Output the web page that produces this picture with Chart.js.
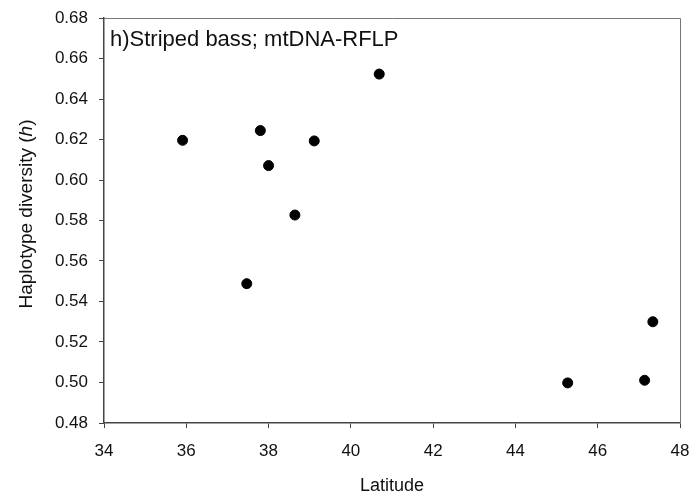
<!DOCTYPE html>
<html>
<head>
<meta charset="utf-8">
<script src="https://cdn.jsdelivr.net/npm/chart.js@4"></script>
<style>
  html, body { margin: 0; padding: 0; background: #fff; }
  #wrap { width: 696px; height: 499px; position: relative; }
</style>
</head>
<body>
<div id="wrap"><canvas id="chart"></canvas></div>
<script>
// Data
const latitude = [35.91, 37.80, 38.00, 38.64, 39.11, 40.69, 37.47, 45.27, 47.14, 47.34];
const diversity = [0.6196, 0.6244, 0.6071, 0.5827, 0.6193, 0.6523, 0.5488, 0.4998, 0.5011, 0.5300];
const xTicks = [34, 36, 38, 40, 42, 44, 46, 48];
const yTicks = [0.48, 0.50, 0.52, 0.54, 0.56, 0.58, 0.60, 0.62, 0.64, 0.66, 0.68];
const panelLabel = 'h)Striped bass; mtDNA-RFLP';

const FONT = 'Liberation Sans, Arial, sans-serif';
const axisColor = '#444';

// frame, panel label and y title with italic h
const extras = {
    id: 'extras',
    afterDraw(chart) {
        const { ctx, chartArea: a } = chart;
        ctx.save();
        ctx.strokeStyle = '#777';
        ctx.lineWidth = 1;
        ctx.beginPath();
        ctx.moveTo(a.left, a.top + 0.5);
        ctx.lineTo(a.right + 0.5, a.top + 0.5);
        ctx.lineTo(a.right + 0.5, a.bottom);
        ctx.stroke();

        ctx.fillStyle = '#111';
        ctx.font = '22px ' + FONT;
        ctx.textBaseline = 'alphabetic';
        ctx.textAlign = 'left';
        ctx.fillText(panelLabel, a.left + 6, 46);

        // y axis title
        const parts = [['Haplotype diversity (', ''], ['h', 'italic '], [')', '']];
        let total = 0;
        parts.forEach(p => { ctx.font = p[1] + '19px ' + FONT; total += ctx.measureText(p[0]).width; });
        ctx.translate(32, 214);
        ctx.rotate(-Math.PI / 2);
        let x = -total / 2;
        parts.forEach(p => {
            ctx.font = p[1] + '19px ' + FONT;
            ctx.fillText(p[0], x, 0);
            x += ctx.measureText(p[0]).width;
        });
        ctx.restore();
    }
};

new Chart(document.getElementById('chart'), {
    type: 'scatter',
    data: {
        datasets: [{
            data: latitude.map((v, i) => ({ x: v, y: diversity[i] })),
            backgroundColor: '#000',
            borderColor: '#000',
            pointRadius: 5,
            pointHoverRadius: 5
        }]
    },
    options: {
        responsive: true,
        maintainAspectRatio: false,
        animation: false,
        layout: { padding: { top: 18, right: 16, left: 0, bottom: 0 } },
        plugins: {
            legend: { display: false },
            tooltip: { enabled: false }
        },
        scales: {
            x: {
                type: 'linear',
                min: 34,
                max: 48,
                afterBuildTicks: s => { s.ticks = xTicks.map(v => ({ value: v })); },
                afterFit: s => { s.height = 76; s.paddingRight = 0; s.paddingLeft = 0; },
                border: { color: axisColor, width: 1.5 },
                grid: { drawOnChartArea: false, drawTicks: true, tickLength: 5, tickColor: axisColor },
                ticks: { color: '#111', font: { family: FONT, size: 17 }, padding: 13 },
                title: {
                    display: true,
                    text: 'Latitude',
                    color: '#111',
                    font: { family: FONT, size: 18 },
                    padding: { top: 10, bottom: 2 }
                }
            },
            y: {
                type: 'linear',
                min: 0.48,
                max: 0.68,
                afterBuildTicks: s => { s.ticks = yTicks.map(v => ({ value: v })); },
                afterFit: s => { s.width = 104; s.paddingTop = 0; s.paddingBottom = 0; },
                border: { color: axisColor, width: 1.5 },
                grid: { drawOnChartArea: false, drawTicks: true, tickLength: 5, tickColor: axisColor },
                ticks: {
                    color: '#111',
                    font: { family: FONT, size: 17 },
                    padding: 11,
                    callback: v => v.toFixed(2)
                }
            }
        }
    },
    plugins: [extras]
});
</script>
</body>
</html>
